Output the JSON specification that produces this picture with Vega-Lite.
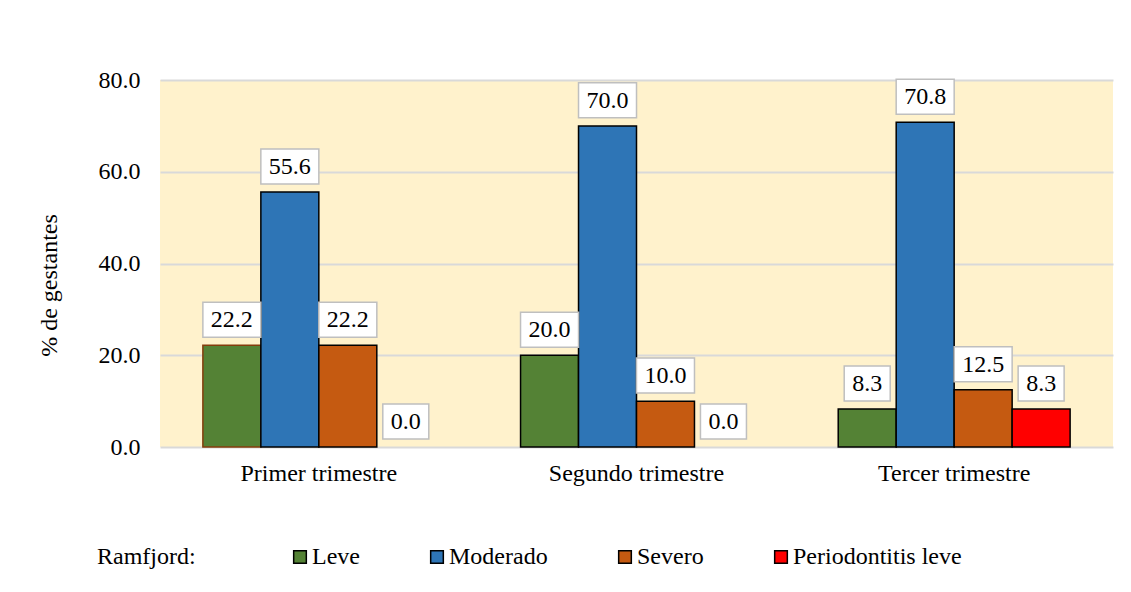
{
  "$schema": "https://vega.github.io/schema/vega-lite/v6.json",
  "width": 953,
  "height": 367,
  "autosize": {"type": "none"},
  "padding": {"left": 160, "top": 80, "right": 18, "bottom": 145},
  "background": "white",
  "config": {
    "font": "Liberation Serif",
    "view": {"fill": "#fff2cc", "stroke": null}
  },
  "data": {
    "values": [
      {"trimestre": "Primer trimestre", "serie": "Leve", "v": 22.2},
      {"trimestre": "Primer trimestre", "serie": "Moderado", "v": 55.6},
      {"trimestre": "Primer trimestre", "serie": "Severo", "v": 22.2},
      {"trimestre": "Primer trimestre", "serie": "Periodontitis leve", "v": 0.0},
      {"trimestre": "Segundo trimestre", "serie": "Leve", "v": 20.0},
      {"trimestre": "Segundo trimestre", "serie": "Moderado", "v": 70.0},
      {"trimestre": "Segundo trimestre", "serie": "Severo", "v": 10.0},
      {"trimestre": "Segundo trimestre", "serie": "Periodontitis leve", "v": 0.0},
      {"trimestre": "Tercer trimestre", "serie": "Leve", "v": 8.3},
      {"trimestre": "Tercer trimestre", "serie": "Moderado", "v": 70.8},
      {"trimestre": "Tercer trimestre", "serie": "Severo", "v": 12.5},
      {"trimestre": "Tercer trimestre", "serie": "Periodontitis leve", "v": 8.3}
    ]
  },
  "encoding": {
    "x": {
      "field": "trimestre",
      "type": "nominal",
      "sort": ["Primer trimestre", "Segundo trimestre", "Tercer trimestre"],
      "scale": {"paddingInner": 0.27, "paddingOuter": 0.135},
      "axis": {
        "title": null,
        "domain": false,
        "ticks": false,
        "labelAngle": 0,
        "labelFontSize": 24,
        "labelColor": "#000000",
        "labelPadding": 14
      }
    },
    "xOffset": {
      "field": "serie",
      "type": "nominal",
      "sort": ["Leve", "Moderado", "Severo", "Periodontitis leve"],
      "scale": {"paddingInner": 0, "paddingOuter": 0}
    },
    "y": {
      "field": "v",
      "type": "quantitative",
      "scale": {"domain": [0, 80], "nice": false},
      "axis": {
        "title": "% de gestantes",
        "titleFontSize": 24,
        "titleFontWeight": "normal",
        "titleColor": "#000000",
        "titlePadding": 37,
        "titleY": 205,
        "values": [0, 20, 40, 60, 80],
        "format": ".1f",
        "domain": false,
        "ticks": false,
        "labelFontSize": 24,
        "labelColor": "#000000",
        "labelPadding": 20,
        "gridColor": "#d9d9d9",
        "gridWidth": 2
      }
    }
  },
  "layer": [
    {
      "mark": {"type": "bar", "stroke": "#000000", "strokeWidth": 1.5},
      "encoding": {
        "color": {
          "field": "serie",
          "type": "nominal",
          "scale": {
            "domain": ["Leve", "Moderado", "Severo", "Periodontitis leve"],
            "range": ["#548235", "#2e75b6", "#c55a11", "#ff0000"]
          },
          "legend": {
            "title": "Ramfjord:",
            "orient": "none",
            "direction": "horizontal",
            "legendX": -63,
            "legendY": 465,
            "titleOrient": "left",
            "titleFontSize": 24,
            "titleFontWeight": "normal",
            "titleColor": "#000000",
            "titlePadding": 92,
            "titleBaseline": "middle",
            "labelFontSize": 24,
            "labelColor": "#000000",
            "labelOffset": 0,
            "labelLimit": 400,
            "symbolType": "square",
            "symbolSize": 160,
            "symbolStrokeColor": "#000000",
            "symbolStrokeWidth": 1.5,
            "columnPadding": 65
          }
        },
        "stroke": {
          "condition": [
            {"test": "datum.v == 0", "value": "transparent"},
            {"test": "datum.serie == 'Leve' && datum.trimestre == 'Primer trimestre'", "value": "#843c0c"}
          ],
          "value": "#000000"
        }
      }
    },
    {
      "mark": {
        "type": "point",
        "filled": true,
        "fill": "#ffffff",
        "stroke": "#bfbfbf",
        "strokeWidth": 1.5,
        "opacity": 1
      },
      "encoding": {
        "size": {"condition": {"test": "datum.v >= 10", "value": 3364}, "value": 2116},
        "shape": {
          "condition": {"test": "datum.v >= 10", "value": "M-1,-1.483H1V-0.276H-1Z"},
          "value": "M-1,-1.87H1V-0.348H-1Z"
        }
      }
    },
    {
      "mark": {
        "type": "text",
        "fontSize": 24,
        "color": "#000000",
        "baseline": "middle",
        "dy": -25
      },
      "encoding": {
        "text": {"field": "v", "type": "quantitative", "format": ".1f"}
      }
    }
  ]
}
